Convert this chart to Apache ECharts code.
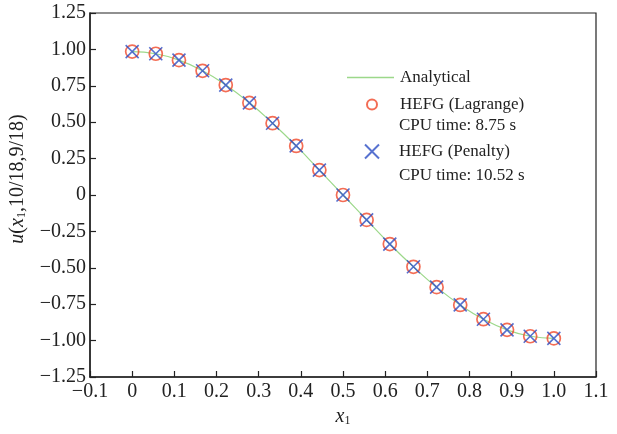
<!DOCTYPE html>
<html>
<head>
<meta charset="utf-8">
<script src="https://cdn.jsdelivr.net/npm/echarts@6/dist/echarts.min.js"></script>
<style>
  html, body { margin: 0; padding: 0; background: #fff; }
  #chart { width: 617px; height: 434px; }
</style>
</head>
<body>
<div id="chart"></div>
<script>
// x1 nodes (0 .. 1 in steps of 1/18)
let xNodes = [0, 0.056, 0.111, 0.167, 0.222, 0.278, 0.333, 0.389, 0.444, 0.5,
    0.556, 0.611, 0.667, 0.722, 0.778, 0.833, 0.889, 0.944, 1.0];
let analyticalVals = [0.985, 0.970, 0.926, 0.853, 0.755, 0.633, 0.493, 0.337, 0.171, 0,
    -0.171, -0.337, -0.493, -0.633, -0.755, -0.853, -0.926, -0.970, -0.985];
let lagrangeVals = [0.985, 0.970, 0.926, 0.853, 0.755, 0.633, 0.493, 0.337, 0.171, 0,
    -0.171, -0.337, -0.493, -0.633, -0.755, -0.853, -0.926, -0.970, -0.985];
let penaltyVals = [0.985, 0.970, 0.926, 0.853, 0.755, 0.633, 0.493, 0.337, 0.171, 0,
    -0.171, -0.337, -0.493, -0.633, -0.755, -0.853, -0.926, -0.970, -0.985];
let legendNames = ['Analytical', 'HEFG (Lagrange)', 'HEFG (Penalty)'];
let cpuTexts = ['CPU time: 8.75 s', 'CPU time: 10.52 s'];

const serif = '"Liberation Serif", "DejaVu Serif", serif';
const crossPath = 'path://M0,0L10,10M10,0L0,10';
const lineColor = '#9cd88a';
const redColor = '#f0492a';
const blueColor = '#2d4fc4';

function pairs(xs, ys) {
    return xs.map((x, i) => [x, ys[i]]);
}

let chartDom = document.getElementById('chart');
let myChart = echarts.init(chartDom);
let legendBase = {
    orient: 'vertical',
    padding: 5,
    textStyle: {fontFamily: serif, fontSize: 17, color: '#222'},
    selectedMode: false
};
let option = {
    animation: false,
    grid: {left: 88, right: 21, top: 13, bottom: 57, show: true, borderColor: '#222', borderWidth: 1.2},
    legend: [
        Object.assign({}, legendBase, {
            left: 342, top: 64, itemWidth: 47, itemHeight: 1.5,
            textStyle: {fontFamily: serif, fontSize: 17, color: '#222', padding: [0, 0, 0, 1]},
            data: [{name: legendNames[0], icon: 'rect', itemStyle: {color: lineColor}}]
        }),
        Object.assign({}, legendBase, {
            left: 361, top: 91, itemWidth: 10, itemHeight: 10,
            textStyle: {fontFamily: serif, fontSize: 17, color: '#222', padding: [0, 0, 0, 18]},
            data: [legendNames[1]]
        }),
        Object.assign({}, legendBase, {
            left: 359, top: 138, itemWidth: 14, itemHeight: 14,
            textStyle: {fontFamily: serif, fontSize: 17, color: '#222', padding: [0, 0, 0, 15]},
            data: [legendNames[2]]
        })
    ],
    graphic: [
        {type: 'text', left: 399, top: 117, style: {text: cpuTexts[0], font: '17px ' + serif, fill: '#222'}},
        {type: 'text', left: 399, top: 167, style: {text: cpuTexts[1], font: '17px ' + serif, fill: '#222'}}
    ],
    xAxis: {
        type: 'value',
        min: -0.1,
        max: 1.1,
        interval: 0.1,
        name: '{i|x}{s|1}',
        nameLocation: 'middle',
        nameGap: 23,
        nameTextStyle: {
            rich: {
                i: {fontFamily: serif, fontStyle: 'italic', fontSize: 20, color: '#222'},
                s: {fontFamily: serif, fontSize: 12, color: '#222', verticalAlign: 'bottom', padding: [8, 0, 0, 0]}
            }
        },
        splitLine: {show: false},
        axisLine: {onZero: false, lineStyle: {color: '#222', width: 1.5}},
        axisTick: {inside: true, length: 6, lineStyle: {color: '#222', width: 1.2}},
        axisLabel: {
            fontFamily: serif, fontSize: 20, color: '#222', margin: 5,
            formatter: function (v) {
                let r = Math.round(v * 10) / 10;
                if (r === 0) return '0';
                return r.toFixed(1).replace('-', '\u2212');
            }
        }
    },
    yAxis: {
        type: 'value',
        min: -1.25,
        max: 1.25,
        interval: 0.25,
        name: '{i|u}{n|(}{i|x}{s|1}{n|,10/18,9/18)}',
        nameLocation: 'middle',
        nameGap: 62,
        nameTextStyle: {
            padding: [0, 0, 0, 32],
            rich: {
                i: {fontFamily: serif, fontStyle: 'italic', fontSize: 20, color: '#222'},
                n: {fontFamily: serif, fontSize: 20, color: '#222'},
                s: {fontFamily: serif, fontSize: 12, color: '#222', verticalAlign: 'bottom', padding: [8, 0, 0, 0]}
            }
        },
        splitLine: {show: false},
        axisLine: {onZero: false, lineStyle: {color: '#222', width: 1.5}},
        axisTick: {inside: true, length: 6, lineStyle: {color: '#222', width: 1.2}},
        axisLabel: {
            fontFamily: serif, fontSize: 20, color: '#222', margin: 4,
            formatter: function (v) {
                let r = Math.round(v * 100) / 100;
                if (r === 0) return '0';
                return r.toFixed(2).replace('-', '\u2212');
            }
        }
    },
    series: [
        {
            name: legendNames[0],
            type: 'line',
            data: pairs(xNodes, analyticalVals),
            smooth: true,
            symbol: 'none',
            lineStyle: {color: lineColor, width: 1.2},
            itemStyle: {color: lineColor},
            z: 1
        },
        {
            name: legendNames[1],
            type: 'scatter',
            data: pairs(xNodes, lagrangeVals),
            symbol: 'circle',
            symbolSize: 13,
            itemStyle: {color: 'rgba(0,0,0,0)', borderColor: redColor, borderWidth: 1.7},
            z: 2
        },
        {
            name: legendNames[2],
            type: 'scatter',
            data: pairs(xNodes, penaltyVals),
            symbol: crossPath,
            symbolSize: 13,
            itemStyle: {color: 'rgba(0,0,0,0)', borderColor: blueColor, borderWidth: 1.6},
            z: 3
        }
    ]
};
option && myChart.setOption(option);
</script>
</body>
</html>
